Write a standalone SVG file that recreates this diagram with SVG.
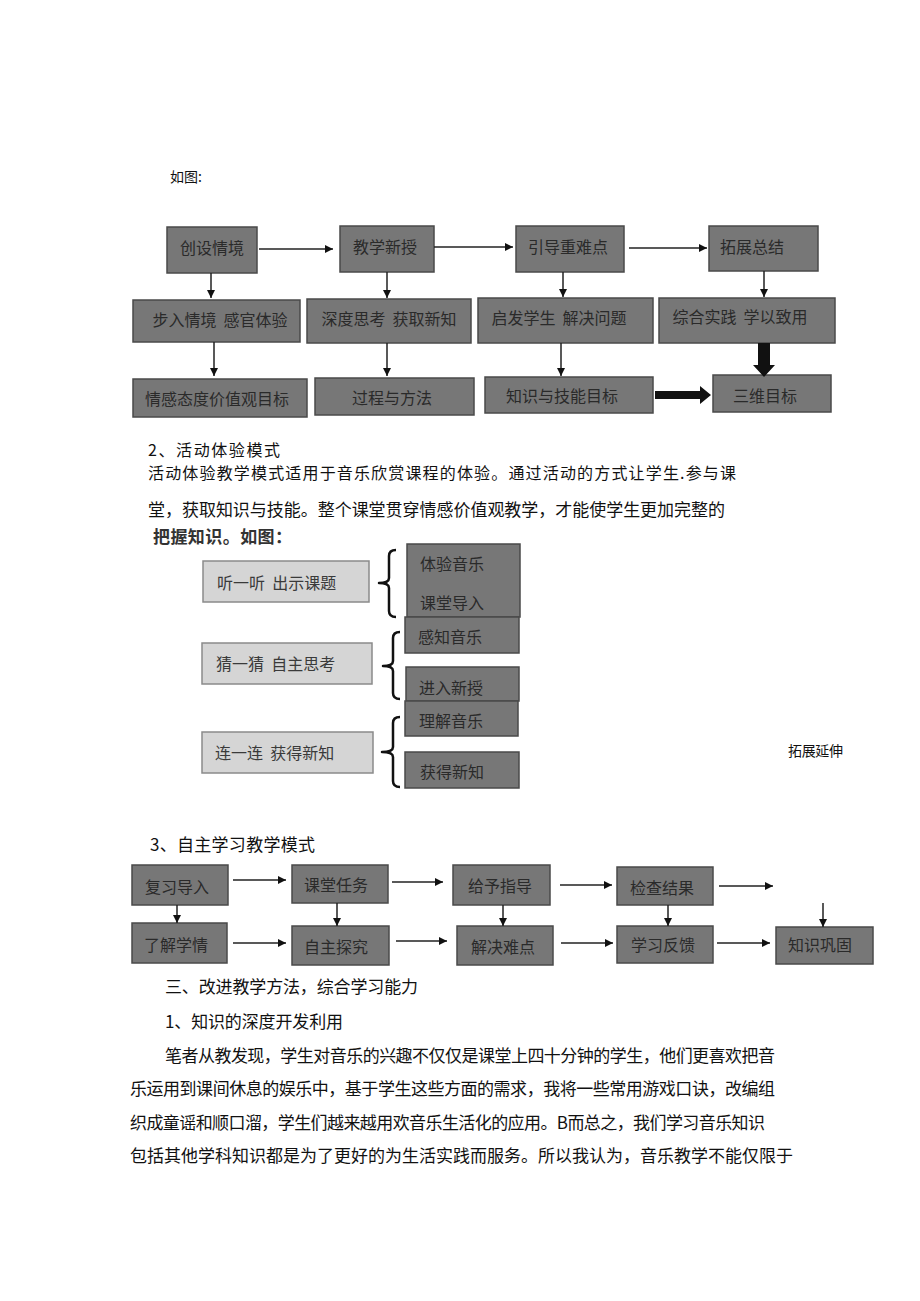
<svg xmlns="http://www.w3.org/2000/svg" width="920" height="1301" viewBox="0 0 920 1301">
<defs>
<style>
.txt{font-family:"Noto Sans CJK SC","Liberation Sans",sans-serif;fill:#111;font-size:17px;dominant-baseline:central}
.dk rect{fill:#777;stroke:#4a4a4a;stroke-width:1.5}
.dk text{font-family:"Noto Sans CJK SC","Liberation Serif",serif;fill:#2a2a2a;font-size:16px;dominant-baseline:central;text-anchor:middle;white-space:pre}
.lt rect{fill:#d5d5d5;stroke:#8a8a8a;stroke-width:1.5}
.lt text{font-family:"Noto Sans CJK SC","Liberation Serif",serif;fill:#3a3a3a;font-size:16px;dominant-baseline:central;white-space:pre}
.dl text{text-anchor:start}
.conn line{stroke:#222;stroke-width:1.5;marker-end:url(#ah)}
.brace{fill:none;stroke:#111;stroke-width:2.5;stroke-linejoin:round}
.thick{fill:#111}
</style>
<marker id="ah" viewBox="0 0 10 10" refX="10" refY="5" markerWidth="9" markerHeight="8" markerUnits="userSpaceOnUse" orient="auto">
<path d="M0,0 L10,5 L0,10 z" fill="#111"/>
</marker>
</defs>
<rect width="920" height="1301" fill="#fff"/>

<!-- body text -->
<text class="txt" x="170" y="176" style="font-size:14px">如图:</text>
<text class="txt" x="148" y="449" style="font-size:16px" textLength="132" lengthAdjust="spacing">2、活动体验模式</text>
<text class="txt" x="148" y="472" style="font-size:16px" textLength="588" lengthAdjust="spacing">活动体验教学模式适用于音乐欣赏课程的体验。通过活动的方式让学生.参与课</text>
<text class="txt" x="148" y="508" textLength="577" lengthAdjust="spacing">堂，获取知识与技能。整个课堂贯穿情感价值观教学，才能使学生更加完整的</text>
<text class="txt" x="153" y="535" style="font-weight:bold;fill:#333" textLength="139" lengthAdjust="spacing">把握知识。如图：</text>
<text class="txt" x="788" y="750" style="font-size:14px" textLength="55" lengthAdjust="spacing">拓展延伸</text>
<text class="txt" x="150" y="843" textLength="165" lengthAdjust="spacing">3、自主学习教学模式</text>
<text class="txt" x="165" y="985" textLength="253" lengthAdjust="spacing">三、改进教学方法，综合学习能力</text>
<text class="txt" x="165" y="1020" textLength="178" lengthAdjust="spacing">1、知识的深度开发利用</text>
<text class="txt" x="165" y="1054" textLength="610" lengthAdjust="spacing">笔者从教发现，学生对音乐的兴趣不仅仅是课堂上四十分钟的学生，他们更喜欢把音</text>
<text class="txt" x="130" y="1087" textLength="645" lengthAdjust="spacing">乐运用到课间休息的娱乐中，基于学生这些方面的需求，我将一些常用游戏口诀，改编组</text>
<text class="txt" x="130" y="1121" textLength="635" lengthAdjust="spacing">织成童谣和顺口溜，学生们越来越用欢音乐生活化的应用。B而总之，我们学习音乐知识</text>
<text class="txt" x="130" y="1154" textLength="663" lengthAdjust="spacing">包括其他学科知识都是为了更好的为生活实践而服务。所以我认为，音乐教学不能仅限于</text>

<!-- Section 1 nodes -->
<g id="n1" class="dk"><rect x="167" y="227" width="90" height="46"/><text x="212" y="247">创设情境</text></g>
<g id="n2" class="dk"><rect x="340" y="226" width="94" height="46"/><text x="385" y="246">教学新授</text></g>
<g id="n3" class="dk"><rect x="516" y="226" width="108" height="46"/><text x="568" y="246">引导重难点</text></g>
<g id="n4" class="dk"><rect x="709" y="226" width="109" height="45"/><text x="752" y="246">拓展总结</text></g>
<g id="n5" class="dk"><rect x="133" y="300" width="167" height="42"/><text x="220" y="319">步入情境  感官体验</text></g>
<g id="n6" class="dk"><rect x="307" y="299" width="164" height="44"/><text x="389" y="318">深度思考  获取新知</text></g>
<g id="n7" class="dk"><rect x="478" y="298" width="175" height="45"/><text x="559" y="317">启发学生  解决问题</text></g>
<g id="n8" class="dk"><rect x="659" y="298" width="176" height="45"/><text x="740" y="316">综合实践  学以致用</text></g>
<g id="n9" class="dk"><rect x="133" y="379" width="174" height="38"/><text x="217" y="398">情感态度价值观目标</text></g>
<g id="n10" class="dk"><rect x="315" y="378" width="159" height="37"/><text x="392" y="397">过程与方法</text></g>
<g id="n11" class="dk"><rect x="485" y="377" width="168" height="36"/><text x="562" y="395">知识与技能目标</text></g>
<g id="n12" class="dk"><rect x="713" y="375" width="118" height="37"/><text x="765" y="395">三维目标</text></g>

<!-- Section 2 nodes -->
<g id="m1" class="lt"><rect x="203" y="561" width="166" height="41"/><text x="217" y="582">听一听  出示课题</text></g>
<g id="m2" class="lt"><rect x="202" y="643" width="170" height="41"/><text x="216" y="663">猜一猜  自主思考</text></g>
<g id="m3" class="lt"><rect x="202" y="732" width="171" height="41"/><text x="215" y="752">连一连  获得新知</text></g>
<g id="d1" class="dk dl"><rect x="407" y="544" width="113" height="73"/><text x="420" y="563">体验音乐</text><text x="420" y="602">课堂导入</text></g>
<g id="d2" class="dk dl"><rect x="405" y="617" width="114" height="36"/><text x="418" y="636">感知音乐</text></g>
<g id="d3" class="dk dl"><rect x="406" y="667" width="113" height="34"/><text x="419" y="687">进入新授</text></g>
<g id="d4" class="dk dl"><rect x="405" y="701" width="113" height="35"/><text x="419" y="720">理解音乐</text></g>
<g id="d5" class="dk dl"><rect x="405" y="752" width="114" height="36"/><text x="420" y="771">获得新知</text></g>

<!-- Section 3 nodes -->
<g id="s1" class="dk"><rect x="132" y="865" width="96" height="40"/><text x="177" y="886">复习导入</text></g>
<g id="s2" class="dk"><rect x="292" y="865" width="96" height="38"/><text x="336" y="884">课堂任务</text></g>
<g id="s3" class="dk"><rect x="453" y="865" width="97" height="40"/><text x="500" y="885">给予指导</text></g>
<g id="s4" class="dk"><rect x="617" y="867" width="96" height="38"/><text x="662" y="887">检查结果</text></g>
<g id="s5" class="dk"><rect x="132" y="923" width="95" height="40"/><text x="176" y="944">了解学情</text></g>
<g id="s6" class="dk"><rect x="292" y="926" width="97" height="39"/><text x="336" y="946">自主探究</text></g>
<g id="s7" class="dk"><rect x="457" y="926" width="96" height="39"/><text x="503" y="946">解决难点</text></g>
<g id="s8" class="dk"><rect x="617" y="926" width="96" height="37"/><text x="663" y="944">学习反馈</text></g>
<g id="s9" class="dk"><rect x="776" y="927" width="97" height="37"/><text x="820" y="944">知识巩固</text></g>

<!-- connectors -->
<g id="connectors" class="conn">
<line x1="259" y1="249" x2="333" y2="249"/>
<line x1="434" y1="247" x2="513" y2="247"/>
<line x1="629" y1="248" x2="707" y2="248"/>
<line x1="211" y1="273" x2="211" y2="298"/>
<line x1="214" y1="342" x2="214" y2="376"/>
<line x1="387" y1="272" x2="387" y2="298"/>
<line x1="387" y1="343" x2="387" y2="376"/>
<line x1="563" y1="272" x2="563" y2="297"/>
<line x1="561" y1="343" x2="561" y2="376"/>
<line x1="764" y1="271" x2="764" y2="297"/>
<polygon class="thick" points="758,343 770,343 770,365 775,365 764,377 753,365 758,365"/>
<polygon class="thick" points="655,391 700,391 700,386 711,395 700,404 700,399 655,399"/>
<path class="brace" d="M396,550 Q389,550 389,556 L389,578 Q389,583 379,583 Q389,583 389,588 L389,611 Q389,617 396,617"/>
<path class="brace" d="M400,632 Q393,632 393,638 L393,661 Q393,666 383,666 Q393,666 393,671 L393,693 Q393,699 400,699"/>
<path class="brace" d="M400,717 Q393,717 393,723 L393,747 Q393,752 382,752 Q393,752 393,757 L393,781 Q393,787 400,787"/>
<line x1="233" y1="880" x2="286" y2="880"/>
<line x1="392" y1="882" x2="443" y2="882"/>
<line x1="560" y1="885" x2="612" y2="885"/>
<line x1="719" y1="886" x2="773" y2="886"/>
<line x1="233" y1="943" x2="286" y2="943"/>
<line x1="396" y1="941" x2="447" y2="941"/>
<line x1="561" y1="943" x2="613" y2="943"/>
<line x1="717" y1="943" x2="770" y2="943"/>
<line x1="177" y1="905" x2="177" y2="923"/>
<line x1="337" y1="903" x2="337" y2="926"/>
<line x1="503" y1="905" x2="503" y2="926"/>
<line x1="668" y1="905" x2="668" y2="926"/>
<line x1="823" y1="903" x2="823" y2="927"/>
</g>
</svg>
